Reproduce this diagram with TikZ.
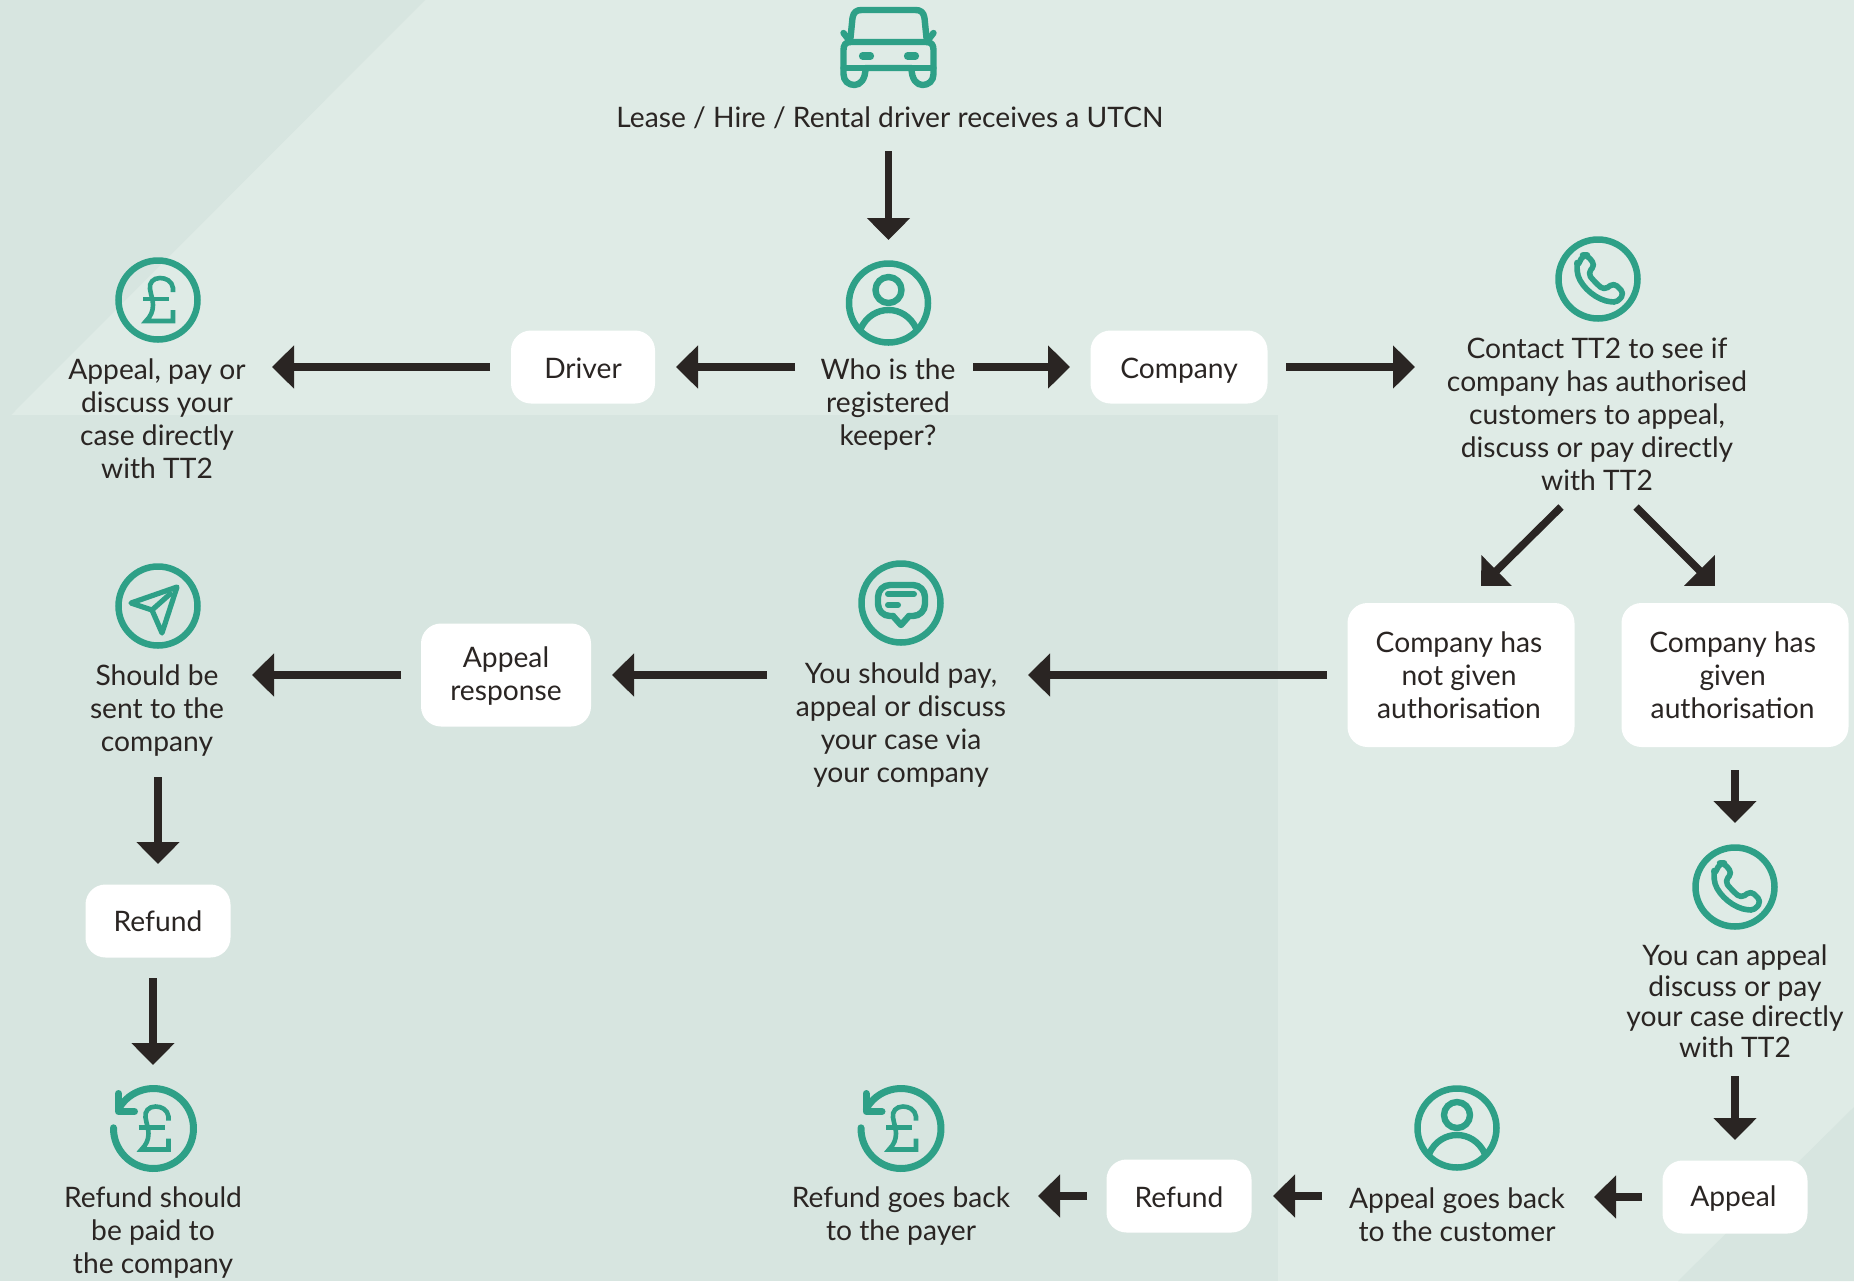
\documentclass[tikz,border=0pt]{standalone}
\usepackage{fontspec}
\setmainfont{Lato}
\usetikzlibrary{arrows.meta,calc}
\definecolor{bglight}{HTML}{DFEBE6}
\definecolor{bgdark}{HTML}{D7E5E0}
\definecolor{teal}{HTML}{2EA087}
\definecolor{ink}{HTML}{2A2523}
\tikzset{
  x=0.5pt,y=-0.5pt,
  box/.style={fill=white,rounded corners=10pt,inner sep=0pt,align=center,text=ink,font=\fontsize{14.1}{16.5}\selectfont},
  label/.style={inner sep=0pt,align=center,text=ink,font=\fontsize{14.1}{16.5}\selectfont},
  ring/.style={circle,draw=teal,line width=3.25pt,minimum size=39.5pt,inner sep=0pt},
  arr/.style={draw=ink,line width=3.75pt,-{Triangle[length=11pt,width=21pt]}},
  sa/.style={shorten <=#1*0.5pt},
  sb/.style={shorten >=#1*0.5pt},
  glyph/.style={draw=teal,line width=2.6pt,line cap=round,line join=round},
  poundmark/.style={draw=teal,line width=2.3pt,line cap=butt,line join=miter}
}
\newcommand{\lowered}[2]{\raisebox{-#1}[\height][\depth]{#2}}
\newcommand{\poundpath}{%
  \draw[poundmark] (15,-8) -- (15,-12) .. controls (14,-19) and (8,-22) .. (2,-22) .. controls (-5,-22) and (-9,-17) .. (-8,-11) .. controls (-7,-5) and (-5,0) .. (-5,5) .. controls (-5,11) and (-7,16) .. (-12,21) -- (15,21) -- (15,10);
  \draw[poundmark] (-15,-1) -- (11,-1);
}
\newcommand{\phonepath}{%
  \draw[glyph,line width=2.8pt,rounded corners=2.2pt] (-21,-12) -- (-15,-24) -- (-11,-24) -- (-3,-14) -- (-10,-6) .. controls (-6,0) and (0,6) .. (6,11) -- (16,4) -- (26,14) -- (20,23) -- (12,23) .. controls (-6,18) and (-20,4) .. cycle;
}
\newcommand{\personpath}{%
  \draw[glyph,line width=3.2pt] (0,-13) circle[radius=13];
  \draw[glyph,line width=3.2pt,line cap=butt] (-28,26) .. controls (-22,13) and (-11,7) .. (0,7) .. controls (11,7) and (22,13) .. (28,26);
}
\newcommand{\refundpath}{%
  \draw[glyph,line width=3.5pt] plot[domain=-150:181,samples=60] ({40*cos(\x)},{40*sin(\x)});
  \draw[glyph,line width=3.5pt] (-35,-35) -- (-35,-17) -- (-19,-17);
}
\begin{document}
\begin{tikzpicture}
\useasboundingbox (0,0) rectangle (1854,1281);
% background
\fill[bglight] (0,0) rectangle (1854,1281);
\fill[bgdark] (0,415) rectangle (1278,1281);
\fill[bgdark] (0,0) -- (425,0) -- (11,415) -- (0,415) -- cycle;
\fill[bgdark] (1854,1107) -- (1854,1281) -- (1678,1281) -- cycle;

% white boxes
\node[box,minimum width=72pt,minimum height=36.5pt] (driver) at (583,367) {\lowered{0.6pt}{Driver}};
\node[box,minimum width=88.5pt,minimum height=36.5pt] (company) at (1179,367) {\lowered{1.8pt}{Company}};
\node[box,minimum width=85pt,minimum height=51.5pt] (apresp) at (506,675) {\lowered{1.2pt}{\begin{tabular}{@{}c@{}}Appeal\\response\end{tabular}}};
\node[box,minimum width=113.5pt,minimum height=72pt] (notgiven) at (1461,675) {\hspace{-2pt}\lowered{1.8pt}{\begin{tabular}{@{}c@{}}Company has\\not given\\authorisation\end{tabular}}};
\node[box,minimum width=113.5pt,minimum height=72pt] (given) at (1735,675) {\hspace{-2.4pt}\lowered{1.8pt}{\begin{tabular}{@{}c@{}}Company has\\given\\authorisation\end{tabular}}};
\node[box,minimum width=72.5pt,minimum height=36.5pt] (refundl) at (158,921) {Refund};
\node[box,minimum width=72.5pt,minimum height=36.5pt] (refundm) at (1179,1196) {\lowered{0.6pt}{Refund}};
\node[box,minimum width=72.5pt,minimum height=36.5pt] (appeal) at (1735,1197) {\hspace{-1.6pt}\lowered{1pt}{Appeal}};

% labels
\node[label] (lease) at (890,118) {Lease / Hire / Rental driver receives a UTCN};
\node[label] (who) at (888,405) {Who is the\\registered\\keeper?};
\node[label] (payl) at (157,419) {Appeal, pay or\\discuss your\\case directly\\with TT2};
\node[label] (contact) at (1597,414) {Contact TT2 to see if\\company has authorised\\customers to appeal,\\discuss or pay directly\\with TT2};
\node[label] (via) at (901,725) {You should pay,\\appeal or discuss\\your case via\\your company};
\node[label] (should) at (157,711) {Should be\\sent to the\\company};
\node[label,font=\fontsize{14.1}{15.25}\selectfont] (youcan) at (1735,1001) {You can appeal\\discuss or pay\\your case directly\\with TT2};
\node[label] (backc) at (1457,1215) {Appeal goes back\\to the customer};
\node[label] (backp) at (901,1216) {Refund goes back\\to the payer};
\node[label] (refco) at (153,1233) {Refund should\\be paid to\\the company};

% icon rings
\node[ring] (ipound) at (158,300) {};
\node[ring] (iperson) at (888.5,303) {};
\node[ring] (iphone) at (1598,279) {};
\node[ring] (isend) at (158,606) {};
\node[ring] (imsg) at (901,603) {};
\node[ring] (iphoneb) at (1735,887) {};
\node[ring] (ipersonb) at (1457,1128) {};

% icon glyphs
\begin{scope}[shift={(888.5,48)}]
  \draw[glyph,line width=3.2pt] (-38,-10) -- (-36,-30) .. controls (-35,-36) and (-32,-38) .. (-27,-38) -- (27,-38) .. controls (32,-38) and (35,-36) .. (36,-30) -- (38,-10);
  \draw[glyph,line width=3.2pt] (-38,-6) -- (38,-6) .. controls (43,-6) and (45,-3) .. (45,2) -- (45,26) .. controls (45,33) and (40,37) .. (34,37) .. controls (28,37) and (23,31) .. (23,20) -- (-23,20) .. controls (-23,31) and (-28,37) .. (-34,37) .. controls (-40,37) and (-45,33) .. (-45,26) -- (-45,2) .. controls (-45,-3) and (-43,-6) .. (-38,-6);
  \draw[glyph,line width=3.2pt] (-45,20) -- (45,20);
  \draw[glyph,line width=3.2pt] (-45,-15) -- (-38,-6);
  \draw[glyph,line width=3.2pt] (45,-15) -- (38,-6);
  \draw[glyph,line width=3.6pt] (-26,8) -- (-18,8);
  \draw[glyph,line width=3.6pt] (19,8) -- (27,8);
\end{scope}
\begin{scope}[shift={(ipound)}] \poundpath \end{scope}
\begin{scope}[shift={(iperson)}] \personpath \end{scope}
\begin{scope}[shift={(ipersonb)}] \personpath \end{scope}
\begin{scope}[shift={(iphone)}] \phonepath \end{scope}
\begin{scope}[shift={(iphoneb)}] \phonepath \end{scope}
\begin{scope}[shift={(isend)}]
  \draw[glyph] (19,-19) -- (-27,-3) -- (-6,4) -- (4,27) -- cycle;
  \draw[glyph] (-6,4) -- (12,-12);
\end{scope}
\begin{scope}[shift={(imsg)}]
  \draw[glyph,line width=3.2pt,rounded corners=6pt] (-8,13) -- (-23,13) -- (-23,-18) -- (24,-18) -- (24,13) -- (8,13);
  \draw[glyph,line width=3.2pt] (-8,13) -- (0,22) -- (8,13);
  \draw[glyph,line width=3pt] (-13,-9) -- (13,-9);
  \draw[glyph,line width=3pt] (-13,2) -- (-3,2);
\end{scope}
\begin{scope}[shift={(153.5,1128.5)}] \refundpath \poundpath \end{scope}
\begin{scope}[shift={(901,1128.5)}] \refundpath \poundpath \end{scope}

% connectors
\draw[arr,sa=33,sb=63] (iperson.center |- lease.center) -- (iperson.center);
\draw[arr,sa=93,sb=93] (who.center |- driver.center) -- (driver.center);
\draw[arr,sa=85,sb=109] (who.center |- company.center) -- (company.center);
\draw[arr,sa=93,sb=115] (driver.center) -- (payl.center |- driver.center);
\draw[arr,sa=107,sb=182] (company.center) -- (contact.center |- company.center);
\draw[arr] ($(contact.center)+(-36,93)$) -- ($(notgiven.center)+(20,-89)$);
\draw[arr] ($(contact.center)+(39,93)$) -- ($(given.center)+(-20,-89)$);
\draw[arr,sa=134,sb=127] (notgiven.center) -- (via.center |- notgiven.center);
\draw[arr,sa=134,sb=106] (via.center |- apresp.center) -- (apresp.center);
\draw[arr,sa=105,sb=95] (apresp.center) -- (should.center |- apresp.center);
\draw[arr,sa=66,sb=57] ($(should.center)+(1,0)$) -- ($(should.center |- refundl.center)+(1,0)$);
\draw[arr,sa=57,sb=168] (refco.center |- refundl.center) -- (refco.center);
\draw[arr,sa=95,sb=178] (given.center) -- (youcan.center);
\draw[arr,sa=75,sb=57] (youcan.center) -- (appeal.center);
\draw[arr,sa=93,sb=137] (appeal.center) -- (backc.center |- appeal.center);
\draw[arr,sa=135,sb=94] (backc.center |- refundm.center) -- (refundm.center);
\draw[arr,sa=92,sb=137] (refundm.center) -- (backp.center |- refundm.center);
\end{tikzpicture}
\end{document}
